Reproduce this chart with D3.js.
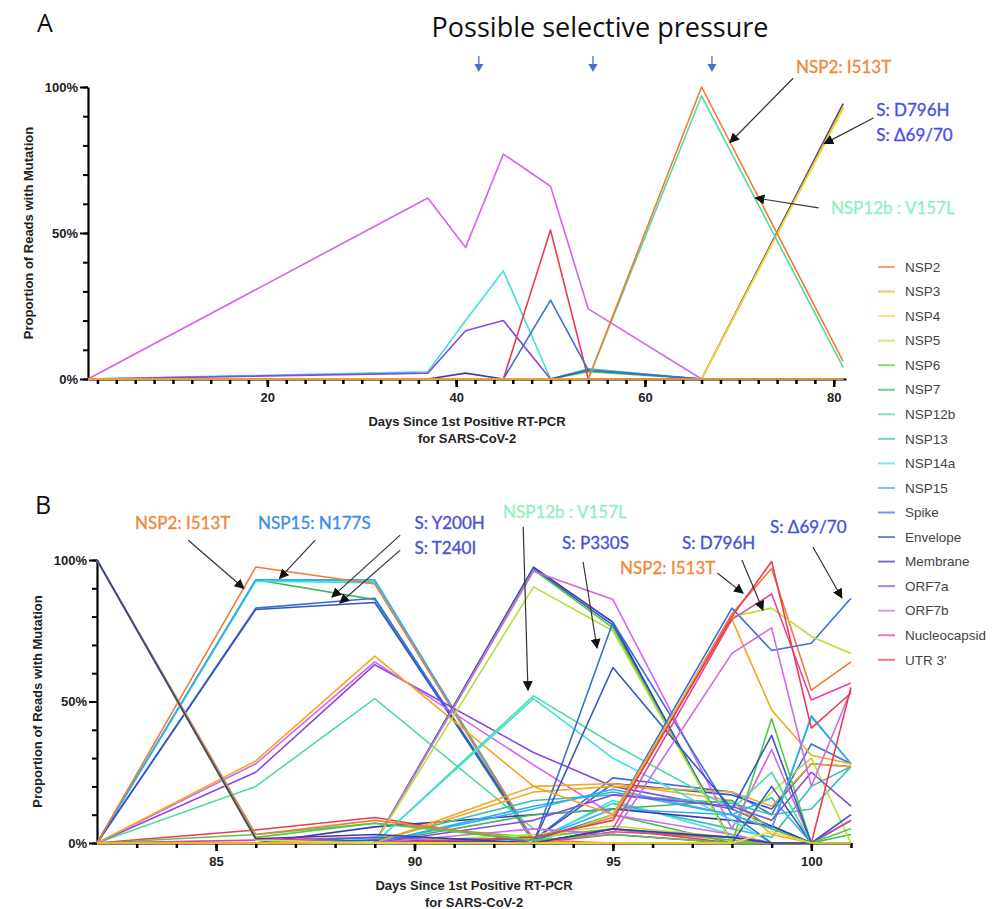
<!DOCTYPE html>
<html>
<head>
<meta charset="utf-8">
<script src="https://cdn.jsdelivr.net/npm/d3@7"></script>
<style>
  body { margin: 0; background: #fff; }
  svg { display: block; }
</style>
</head>
<body>
<svg id="fig" width="1007" height="909"></svg>
<script>
// ---- data ----
var genes = ["NSP2", "NSP3", "NSP4", "NSP5", "NSP6", "NSP7", "NSP12b", "NSP13", "NSP14a",
  "NSP15", "Spike", "Envelope", "Membrane", "ORF7a", "ORF7b", "Nucleocapsid", "UTR 3'"];
var geneColors = ["#f07a3a", "#f5a623", "#e6e02a", "#b5df3a", "#55c845", "#3fb864", "#4fdc9e",
  "#36c2b4", "#3ee0e0", "#33aeea", "#3a6fd8", "#3556c4", "#3b3ca8", "#8a48dc", "#d465ec",
  "#e8409e", "#ee3a4c"];

var daysA = [1, 37, 41, 45, 50, 54, 66, 81];
var seriesA = [
  ["Membrane",     [0, 0, 0, 0, 0, 0, 0, 94.3]],
  ["NSP3",         [0, 0, 0, 0, 0, 0, 0, 93.3]],
  ["NSP4",         [0, 0, 0, 0, 0, 0, 0, 92.6]],
  ["NSP13",        [0, 0, 0, 0, 0, 3.5, 0, 0]],
  ["NSP6",         [0, 0, 0, 0, 0, 2.5, 0, 0]],
  ["Envelope",     [0, 0, 0, 0, 0, 3, 0, 0]],
  ["ORF7b",        [0, 62, 45, 77, 66, 24, 0, 0]],
  ["NSP14a",       [0, 2.5, 20, 37, 0, 0, 0, 0]],
  ["ORF7a",        [0, 2, 16.5, 20, 0, 0, 0, 0]],
  ["Membrane",     [0, 0, 2, 0, 0, 0, 0, 0]],
  ["UTR 3'",       [0, 0, 0, 0, 51, 0, 0, 0]],
  ["Spike",        [0, 0, 0, 0, 27, 3, 0, 0]],
  ["NSP12b",       [0, 0, 0, 0, 0, 0, 97, 4]],
  ["NSP2",         [0, 0, 0, 0, 0, 0, 100, 6]],
  ["NSP3",         [0, 0, 0, 0, 0, 0, 0, 0]]
];

var daysB = [82, 86, 89, 93, 95, 98, 99, 100, 101];
var seriesB = [
  ["NSP7",         [0, 93, 86, 0, 10, 0, 0, 0, 0]],
  ["NSP13",        [0, 93, 92.5, 1, 14, 5, 2, 20, 27]],
  ["NSP14a",       [0, 92.5, 92, 0, 15, 3, 0, 0, 0]],
  ["NSP15",        [0, 93, 93, 1, 12, 10, 5, 45, 28]],
  ["Spike",        [0, 83, 86.5, 1, 23, 18, 10, 35, 28]],
  ["Envelope",     [0, 82.5, 85, 1, 21, 17, 12, 28, 27]],
  ["NSP2",         [0, 97.5, 91.5, 1, 9, 81, 97, 54, 64]],
  ["NSP12b",       [0, 20, 51, 5, 3, 0, 0, 0, 0]],
  ["ORF7a",        [0, 25, 63, 32, 20, 12, 6, 0, 0]],
  ["ORF7b",        [0, 28, 64, 27.6, 10, 3, 0, 0, 0]],
  ["NSP3",         [0, 29, 66, 20, 21, 15, 3, 0, 0]],
  ["UTR 3'",       [0, 4.6, 9, 0, 5, 0, 0, 0, 0]],
  ["NSP6",         [0, 3, 7, 2, 5, 1, 0, 0, 0]],
  ["Membrane",     [0, 0, 5.7, 10, 12, 8, 6, 0, 8]],
  ["Nucleocapsid", [0, 1, 2, 0, 3, 0, 0, 0, 0]],
  ["NSP13",        [0, 0, 1, 15, 17, 14, 10, 12, 27]],
  ["NSP7",         [0, 0, 0, 10, 12, 15, 5, 0, 3]],
  ["NSP15",        [0, 0, 0, 13, 18, 10, 16, 0, 0]],
  ["NSP3",         [0, 0, 0, 18, 20, 18, 13, 28, 27]],
  ["NSP5",         [0, 0, 0, 3, 6, 2, 18, 30, 0]],
  ["Nucleocapsid", [0, 0, 0, 0, 4, 2, 0, 0, 8]],
  ["Membrane",     [0, 0, 0, 97.5, 78, 0, 0, 0, 0]],
  ["Envelope",     [0, 0, 0, 97, 77, 0, 20, 0, 10]],
  ["NSP6",         [0, 0, 0, 96.5, 76, 0, 44, 0, 5]],
  ["ORF7b",        [0, 0, 0, 96, 86, 5, 33, 0, 0]],
  ["NSP5",         [0, 0, 0, 90.5, 75, 0, 0, 0, 0]],
  ["NSP12b",       [0, 0, 0, 52, 35, 12, 25, 0, 0]],
  ["NSP14a",       [0, 0, 0, 51, 30, 8, 0, 0, 0]],
  ["Spike",        [0, 0, 0, 0, 78, 10, 0, 0, 0]],
  ["Envelope",     [0, 0, 1, 0, 62, 12, 38, 0, 0]],
  ["NSP15",        [0, 0, 0, 12, 19, 10, 5, 44.5, 28]],
  ["ORF7a",        [0, 0, 0, 8, 17, 13, 8, 25, 13]],
  ["Spike",        [0, 0, 2, 1, 10, 83, 68, 70.6, 86.5]],
  ["NSP5",         [0, 0, 0, 0, 10, 80, 83, 73, 67]],
  ["NSP3",         [0, 0, 0, 20, 10, 79, 47, 31, 28]],
  ["ORF7b",        [0, 0, 0, 5, 3, 67, 76, 20, 54]],
  ["Nucleocapsid", [0, 0, 0, 0, 5, 79, 88, 50.5, 56.5]],
  ["UTR 3'",       [0, 0, 0, 2, 8, 80, 99.5, 40.6, 53]],
  ["UTR 3'",       [0, 0, 0, 0, 0, 0, 0, 0, 55]],
  ["NSP4",         [100, 1, 0, 0, 0, 0, 0, 0, 0]],
  ["NSP2",         [100, 3, 8, 1, 0, 0, 0, 0, 0]],
  ["NSP6",         [100, 2, 7, 1, 3, 0, 0, 0, 0]],
  ["Membrane",     [100, 1.5, 3, 0, 5, 2, 0, 0, 0]],
  ["NSP4",         [0, 0, 0, 0, 0, 0, 4, 0, 0]]
];

var yTicks = [0, 50, 100];
var xTicksA = [20, 40, 60, 80];
var xTicksB = [85, 90, 95, 100];
var pressureDays = [42.4, 54.5, 67.1];

// annotations: label anchor [day, value], arrow from -> tip [day, value]
var notesA = [
  {text: "NSP2: I513T", c: "#f0883a", at: [76, 107], from: [75.7, 103], to: [69, 81]},
  {text: "S: D796H", c: "#4a50e0", at: [84.5, 92], from: [84.2, 89.4], to: [79, 80.6]},
  {text: "S: \u039469/70", c: "#4a50e0", at: [84.5, 83.6]},
  {text: "NSP12b : V157L", c: "#90f0c4", at: [79.7, 58.6], from: [78.4, 58.6], to: [71.7, 62]}
];
var notesB = [
  {text: "NSP2: I513T", c: "#f0883a", at: [82.96, 113], from: [84.3, 107], to: [85.7, 90]},
  {text: "NSP15: N177S", c: "#3a8ee8", at: [86.06, 113], from: [87.5, 107], to: [86.6, 93.5]},
  {text: "S: Y200H", c: "#4a50e0", at: [90.0, 113], from: [89.64, 108.8], to: [87.92, 86.9]},
  {text: "S: T240I", c: "#4a50e0", at: [90.0, 104.2], from: [89.64, 103.5], to: [88.12, 84.8]},
  {text: "NSP12b : V157L", c: "#90f0c4", at: [92.23, 117], from: [92.74, 111.7], to: [92.86, 54]},
  {text: "S: P330S", c: "#4a50e0", at: [93.72, 106], from: [94.25, 99.3], to: [94.6, 68.9]},
  {text: "S: D796H", c: "#4a50e0", at: [96.74, 106], from: [98.25, 100], to: [98.78, 82.3]},
  {text: "NSP2: I513T", c: "#f0883a", at: [95.18, 97.2], from: [97.63, 95.4], to: [98.28, 88.3]},
  {text: "S: \u039469/70", c: "#4a50e0", at: [98.96, 111.7], from: [100.04, 104.6], to: [100.77, 86.6]}
];

// ---- drawing ----
var svg = d3.select("#fig");
svg.append("rect").attr("width", 1007).attr("height", 909).attr("fill", "#fff");

var color = d3.scaleOrdinal().domain(genes).range(geneColors);

svg.append("defs").append("marker")
  .attr("id", "head")
  .attr("viewBox", "0 0 10 10")
  .attr("refX", 9).attr("refY", 5)
  .attr("markerWidth", 10).attr("markerHeight", 10)
  .attr("markerUnits", "userSpaceOnUse")
  .attr("orient", "auto")
  .append("path").attr("d", "M0,0L10,5L0,10z").attr("fill", "#111");

function panel(opt) {
  var x = d3.scaleLinear().domain(opt.xDomain).range(opt.xRange);
  var y = d3.scaleLinear().domain([0, 100]).range(opt.yRange);
  var g = svg.append("g");
  var y0 = opt.yRange[0];

  // y axis: minor then major
  g.append("g").attr("transform", "translate(" + opt.xRange[0] + ",0)")
    .call(d3.axisLeft(y).tickValues(d3.range(0, 101, 10)).tickSize(5).tickFormat(""))
    .call(function(a) { a.select(".domain").remove(); a.selectAll("line").attr("stroke-width", 2); });
  g.append("g").attr("transform", "translate(" + opt.xRange[0] + ",0)")
    .call(d3.axisLeft(y).tickValues(yTicks).tickSize(8).tickSizeOuter(0).tickPadding(2)
      .tickFormat(function(d) { return d + "%"; }))
    .call(function(a) {
      a.select(".domain").attr("stroke-width", 2.2);
      a.selectAll("line").attr("stroke-width", 2);
      a.selectAll("text").attr("font-family", "Liberation Sans, Arial, sans-serif")
        .attr("font-weight", "bold").attr("font-size", 13).attr("fill", "#222");
    });

  // x axis
  g.append("g").attr("transform", "translate(0," + y0 + ")")
    .call(d3.axisBottom(x).tickValues(opt.minor).tickSize(5).tickFormat(""))
    .call(function(a) { a.select(".domain").remove(); a.selectAll("line").attr("stroke-width", 2.5); });
  g.append("g").attr("transform", "translate(0," + y0 + ")")
    .call(d3.axisBottom(x).tickValues(opt.major).tickSize(8).tickSizeOuter(0).tickPadding(6))
    .call(function(a) {
      a.select(".domain").attr("stroke-width", 2.2);
      a.selectAll("line").attr("stroke-width", 2.5);
      a.selectAll("text").attr("font-family", "Liberation Sans, Arial, sans-serif")
        .attr("font-weight", "bold").attr("font-size", 13).attr("fill", "#222");
    });

  // axis titles
  var cx = (opt.xRange[0] + opt.xRange[1]) / 2;
  var t = g.append("text").attr("x", cx).attr("y", y0 + 47)
    .attr("text-anchor", "middle")
    .attr("font-family", "Liberation Sans, Arial, sans-serif")
    .attr("font-weight", "bold").attr("font-size", 13).attr("fill", "#222");
  t.append("tspan").attr("x", cx).text("Days Since 1st Positive RT-PCR");
  t.append("tspan").attr("x", cx).attr("dy", 17).text("for SARS-CoV-2");

  var cy = (opt.yRange[0] + opt.yRange[1]) / 2;
  g.append("text")
    .attr("transform", "translate(" + opt.yTitleX + "," + cy + ") rotate(-90)")
    .attr("text-anchor", "middle")
    .attr("font-family", "Liberation Sans, Arial, sans-serif")
    .attr("font-weight", "bold").attr("font-size", 13).attr("fill", "#222")
    .text("Proportion of Reads with Mutation");

  // panel letter
  g.append("text").attr("x", opt.letter[0]).attr("y", opt.letter[1])
    .attr("font-family", "Open Sans, sans-serif").attr("font-size", 25).attr("fill", "#111")
    .text(opt.name);

  // lines
  var line = d3.line()
    .x(function(d, i) { return x(opt.days[i]); })
    .y(function(d) { return y(d); });
  g.append("g").selectAll("path")
    .data(opt.series)
    .enter().append("path")
    .attr("d", function(s) { return line(s[1]); })
    .attr("fill", "none")
    .attr("stroke", function(s) { return color(s[0]); })
    .attr("stroke-width", 1.6)
    .attr("stroke-linejoin", "round");

  // annotations
  var notes = g.append("g");
  opt.notes.forEach(function(n) {
    notes.append("text")
      .attr("x", x(n.at[0])).attr("y", y(n.at[1])).attr("dy", "0.35em")
      .attr("font-family", "Lato, Carlito, sans-serif").attr("font-size", 17)
      .attr("fill", n.c).attr("stroke", n.c).attr("stroke-width", 0.35)
      .text(n.text);
    if (n.from) {
      notes.append("line")
        .attr("x1", x(n.from[0])).attr("y1", y(n.from[1]))
        .attr("x2", x(n.to[0])).attr("y2", y(n.to[1]))
        .attr("stroke", "#333").attr("stroke-width", 1.2)
        .attr("marker-end", "url(#head)");
    }
  });
  return {x: x, y: y};
}

var A = panel({
  name: "A", letter: [37, 32], days: daysA, series: seriesA, notes: notesA,
  xDomain: [1, 81.3], xRange: [88, 846], yRange: [379, 87], yTitleX: 33,
  major: xTicksA, minor: d3.range(2, 81, 2)
});

var B = panel({
  name: "B", letter: [35, 514], days: daysB, series: seriesB, notes: notesB,
  xDomain: [82, 101], xRange: [97, 851], yRange: [843, 560], yTitleX: 42,
  major: xTicksB, minor: d3.range(83, 102, 1)
});

// possible selective pressure
svg.append("text").attr("x", 600).attr("y", 37).attr("text-anchor", "middle")
  .attr("font-family", "Open Sans, sans-serif").attr("font-size", 27).attr("fill", "#111")
  .text("Possible selective pressure");
var pg = svg.append("g");
pressureDays.forEach(function(d) {
  var px = A.x(d);
  pg.append("line").attr("x1", px).attr("x2", px).attr("y1", 56).attr("y2", 66)
    .attr("stroke", "#4a72c4").attr("stroke-width", 1.3);
  pg.append("path").attr("d", "M" + (px - 4.5) + ",64L" + (px + 4.5) + ",64L" + px + ",72z")
    .attr("fill", "#4a72c4");
});

// legend
var lg = svg.append("g").attr("transform", "translate(878,267)");
var item = lg.selectAll("g").data(genes).enter().append("g")
  .attr("transform", function(d, i) { return "translate(0," + (i * 24.55) + ")"; });
item.append("line").attr("x1", 0).attr("x2", 17)
  .attr("stroke", function(d) { return color(d); }).attr("stroke-width", 2).attr("stroke-opacity", 0.7);
item.append("text").attr("x", 27).attr("dy", "0.35em")
  .attr("font-family", "Liberation Sans, Arial, sans-serif").attr("font-size", 13.5).attr("fill", "#444")
  .text(function(d) { return d; });
</script>
</body>
</html>
